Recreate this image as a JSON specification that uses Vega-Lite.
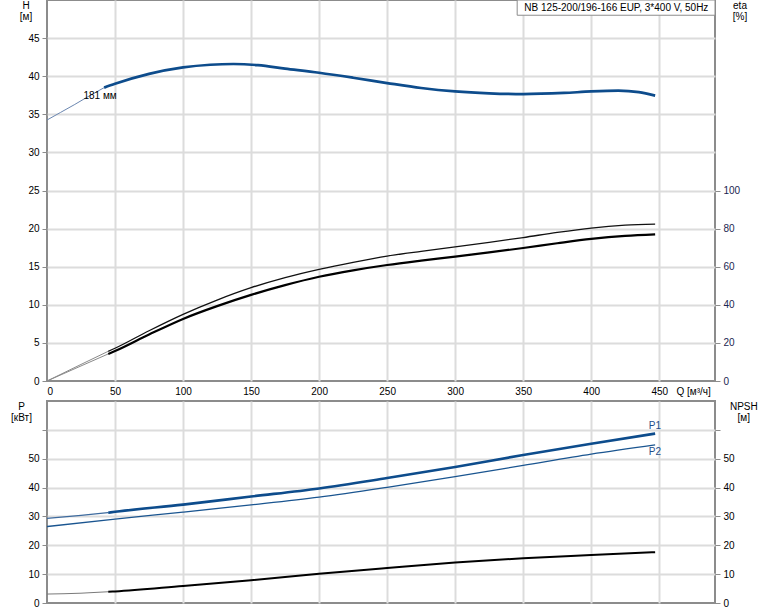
{
"$schema": "https://vega.github.io/schema/vega-lite/v6.json",
"background": "white",
"padding": {"left": 9, "top": -2, "right": 0, "bottom": 0},
"spacing": 3,
"config": {
  "font": "Liberation Sans",
  "view": {"stroke": "#8c8c8c", "strokeWidth": 2},
  "axis": {"gridColor": "#dcdcdc", "gridWidth": 2, "domain": false, "tickColor": "#8c8c8c", "tickSize": 5, "labelFontSize": 10, "labelColor": "#000", "titleFontSize": 10, "titleFontWeight": "normal", "titleColor": "#000", "labelPadding": 3, "labelOverlap": false, "tickCount": 30,
    "gridOpacity": {"condition": {"test": "datum.value === 0", "value": 0}, "value": 1}},
  "text": {"fontSize": 10},
  "line": {"interpolate": "monotone"}
},
"datasets": {
 "curves": [
  {"s":"H_ext","q":0,"v":34.25},{"s":"H_ext","q":10,"v":35.25},{"s":"H_ext","q":20,"v":36.25},{"s":"H_ext","q":30,"v":37.3},{"s":"H_ext","q":42,"v":38.5},
  {"s":"H","q":42,"v":38.5},{"s":"H","q":50,"v":39.0},{"s":"H","q":75,"v":40.3},{"s":"H","q":100,"v":41.15},{"s":"H","q":120,"v":41.5},{"s":"H","q":137,"v":41.6},{"s":"H","q":155,"v":41.45},{"s":"H","q":175,"v":41.0},{"s":"H","q":200,"v":40.45},{"s":"H","q":225,"v":39.8},{"s":"H","q":250,"v":39.1},{"s":"H","q":275,"v":38.45},{"s":"H","q":300,"v":38.0},{"s":"H","q":325,"v":37.75},{"s":"H","q":350,"v":37.65},{"s":"H","q":380,"v":37.8},{"s":"H","q":400,"v":38.0},{"s":"H","q":420,"v":38.1},{"s":"H","q":435,"v":37.9},{"s":"H","q":447,"v":37.45},
  {"s":"eta1_ext","q":0,"v":0},{"s":"eta1_ext","q":25,"v":8.7},{"s":"eta1_ext","q":45,"v":15.6},
  {"s":"eta1","q":45,"v":15.6},{"s":"eta1","q":50,"v":17.2},{"s":"eta1","q":75,"v":26.4},{"s":"eta1","q":100,"v":35.0},{"s":"eta1","q":125,"v":42.5},{"s":"eta1","q":150,"v":49},{"s":"eta1","q":175,"v":54.3},{"s":"eta1","q":200,"v":58.6},{"s":"eta1","q":225,"v":62.3},{"s":"eta1","q":250,"v":65.6},{"s":"eta1","q":275,"v":68.1},{"s":"eta1","q":300,"v":70.4},{"s":"eta1","q":325,"v":72.8},{"s":"eta1","q":350,"v":75.3},{"s":"eta1","q":375,"v":78},{"s":"eta1","q":400,"v":80.3},{"s":"eta1","q":425,"v":81.8},{"s":"eta1","q":447,"v":82.4},
  {"s":"eta2_ext","q":0,"v":0},{"s":"eta2_ext","q":25,"v":7.9},{"s":"eta2_ext","q":45,"v":14.2},
  {"s":"eta2","q":45,"v":14.2},{"s":"eta2","q":50,"v":15.7},{"s":"eta2","q":75,"v":24.4},{"s":"eta2","q":100,"v":32.6},{"s":"eta2","q":125,"v":39.3},{"s":"eta2","q":150,"v":45.2},{"s":"eta2","q":175,"v":50.3},{"s":"eta2","q":200,"v":54.7},{"s":"eta2","q":225,"v":58.1},{"s":"eta2","q":250,"v":60.9},{"s":"eta2","q":275,"v":63.2},{"s":"eta2","q":300,"v":65.3},{"s":"eta2","q":325,"v":67.5},{"s":"eta2","q":350,"v":69.8},{"s":"eta2","q":375,"v":72.3},{"s":"eta2","q":400,"v":74.6},{"s":"eta2","q":425,"v":76.2},{"s":"eta2","q":447,"v":77},
  {"s":"P1_ext","q":0,"v":29.3},{"s":"P1_ext","q":25,"v":30.4},{"s":"P1_ext","q":45,"v":31.3},
  {"s":"P1","q":45,"v":31.3},{"s":"P1","q":50,"v":31.6},{"s":"P1","q":100,"v":34.1},{"s":"P1","q":150,"v":36.9},{"s":"P1","q":200,"v":39.7},{"s":"P1","q":250,"v":43.3},{"s":"P1","q":300,"v":47.1},{"s":"P1","q":350,"v":51.3},{"s":"P1","q":400,"v":55.2},{"s":"P1","q":447,"v":58.7},
  {"s":"P2","q":0,"v":26.5},{"s":"P2","q":50,"v":29.1},{"s":"P2","q":100,"v":31.5},{"s":"P2","q":150,"v":34.0},{"s":"P2","q":200,"v":36.7},{"s":"P2","q":250,"v":40.1},{"s":"P2","q":300,"v":43.8},{"s":"P2","q":350,"v":47.7},{"s":"P2","q":400,"v":51.6},{"s":"P2","q":447,"v":54.8},
  {"s":"NPSH_ext","q":0,"v":3.1},{"s":"NPSH_ext","q":25,"v":3.4},{"s":"NPSH_ext","q":45,"v":3.9},
  {"s":"NPSH","q":45,"v":3.9},{"s":"NPSH","q":50,"v":4.0},{"s":"NPSH","q":100,"v":5.9},{"s":"NPSH","q":150,"v":7.9},{"s":"NPSH","q":200,"v":10.1},{"s":"NPSH","q":250,"v":12.1},{"s":"NPSH","q":300,"v":14.0},{"s":"NPSH","q":350,"v":15.5},{"s":"NPSH","q":400,"v":16.6},{"s":"NPSH","q":447,"v":17.6}
 ]
},
"vconcat": [
 {
  "width": 668, "height": 381,
  "layer": [
   {"layer": [
     {"data": {"name": "curves"}, "transform": [{"filter": "datum.s === 'H_ext'"}],
      "mark": {"type": "line", "color": "#6a86b0", "strokeWidth": 1},
      "encoding": {
        "x": {"field": "q", "type": "quantitative", "scale": {"domain": [0, 491], "nice": false, "zero": false},
              "axis": {"values": [0,50,100,150,200,250,300,350,400,450], "ticks": false, "tickSize": 0, "labelPadding": 5,
                       "title": "Q [м³/ч]", "titleX": 629, "titleY": 5, "titleAlign": "left", "titleBaseline": "top"}},
        "y": {"field": "v", "type": "quantitative", "scale": {"domain": [0, 50], "nice": false},
              "axis": {"values": [0,5,10,15,20,25,30,35,40,45], "title": ["H", "[м]"], "titleAngle": 0, "titleX": -21.5, "titleY": 0, "titleAlign": "center", "titleBaseline": "top", "titleLineHeight": 11}}
      }},
     {"data": {"name": "curves"}, "transform": [{"filter": "datum.s === 'H'"}],
      "mark": {"type": "line", "color": "#0d4c8c", "strokeWidth": 2.7},
      "encoding": {"x": {"field": "q", "type": "quantitative"}, "y": {"field": "v", "type": "quantitative"}}},
     {"data": {"values": [{"t": "181 мм", "q": 39, "v": 37.45}]},
      "mark": {"type": "text", "color": "#000", "align": "center", "baseline": "middle"},
      "encoding": {"x": {"field": "q", "type": "quantitative"}, "y": {"field": "v", "type": "quantitative"}, "text": {"field": "t"}}},
     {"data": {"values": [{"q1": 345.6, "q2": 491, "v1": 50, "v2": 48}]},
      "mark": {"type": "rect", "fill": "white", "stroke": "#8c8c8c", "strokeWidth": 1},
      "encoding": {"x": {"field": "q1", "type": "quantitative"}, "x2": {"field": "q2"}, "y": {"field": "v1", "type": "quantitative"}, "y2": {"field": "v2"}}},
     {"data": {"values": [{"t": "NB 125-200/196-166 EUP, 3*400 V, 50Hz", "q": 418.5, "v": 49}]},
      "mark": {"type": "text", "color": "#000", "align": "center", "baseline": "middle"},
      "encoding": {"x": {"field": "q", "type": "quantitative"}, "y": {"field": "v", "type": "quantitative"}, "text": {"field": "t"}}}
   ]},
   {"layer": [
     {"data": {"name": "curves"}, "transform": [{"filter": "datum.s === 'eta1_ext'"}],
      "mark": {"type": "line", "color": "#8a8a8a", "strokeWidth": 1},
      "encoding": {
        "x": {"field": "q", "type": "quantitative"},
        "y": {"field": "v", "type": "quantitative", "scale": {"domain": [0, 200], "nice": false},
              "axis": {"orient": "right", "grid": false, "values": [0,20,40,60,80,100], "labelColor": "#1a2550", "title": ["eta", "[%]"], "titleAngle": 0, "titleX": 24.5, "titleY": 0, "titleAlign": "center", "titleBaseline": "top", "titleLineHeight": 11}}
      }},
     {"data": {"name": "curves"}, "transform": [{"filter": "datum.s === 'eta2_ext'"}],
      "mark": {"type": "line", "color": "#8a8a8a", "strokeWidth": 1},
      "encoding": {"x": {"field": "q", "type": "quantitative"}, "y": {"field": "v", "type": "quantitative"}}},
     {"data": {"name": "curves"}, "transform": [{"filter": "datum.s === 'eta1'"}],
      "mark": {"type": "line", "color": "#111111", "strokeWidth": 1.3},
      "encoding": {"x": {"field": "q", "type": "quantitative"}, "y": {"field": "v", "type": "quantitative"}}},
     {"data": {"name": "curves"}, "transform": [{"filter": "datum.s === 'eta2'"}],
      "mark": {"type": "line", "color": "#000000", "strokeWidth": 2.2},
      "encoding": {"x": {"field": "q", "type": "quantitative"}, "y": {"field": "v", "type": "quantitative"}}}
   ]}
  ],
  "resolve": {"scale": {"y": "independent"}}
 },
 {
  "width": 668, "height": 202,
  "layer": [
   {"layer": [
     {"data": {"name": "curves"}, "transform": [{"filter": "datum.s === 'P1_ext'"}],
      "mark": {"type": "line", "color": "#3d6a9e", "strokeWidth": 1.3},
      "encoding": {
        "x": {"field": "q", "type": "quantitative", "scale": {"domain": [0, 491], "nice": false, "zero": false},
              "axis": {"values": [0,50,100,150,200,250,300,350,400,450], "labels": false, "ticks": false, "title": null}},
        "y": {"field": "v", "type": "quantitative", "scale": {"domain": [0, 70], "nice": false},
              "axis": {"values": [0,10,20,30,40,50,60], "tickCount": 30, "labelExpr": "datum.value >= 60 ? '' : datum.label", "title": ["P", "[кВт]"], "titleAngle": 0, "titleX": -26, "titleY": 0, "titleAlign": "center", "titleBaseline": "top", "titleLineHeight": 11}}
      }},
     {"data": {"name": "curves"}, "transform": [{"filter": "datum.s === 'P1'"}],
      "mark": {"type": "line", "color": "#0d4c8c", "strokeWidth": 2.6},
      "encoding": {"x": {"field": "q", "type": "quantitative"}, "y": {"field": "v", "type": "quantitative"}}},
     {"data": {"name": "curves"}, "transform": [{"filter": "datum.s === 'P2'"}],
      "mark": {"type": "line", "color": "#1a5590", "strokeWidth": 1.3},
      "encoding": {"x": {"field": "q", "type": "quantitative"}, "y": {"field": "v", "type": "quantitative"}}},
     {"data": {"values": [{"t": "P1", "q": 446.8, "v": 61.4}, {"t": "P2", "q": 446.8, "v": 52.5}]},
      "mark": {"type": "text", "color": "#1f4e8a", "align": "center", "baseline": "middle"},
      "encoding": {"x": {"field": "q", "type": "quantitative"}, "y": {"field": "v", "type": "quantitative"}, "text": {"field": "t"}}}
   ]},
   {"layer": [
     {"data": {"name": "curves"}, "transform": [{"filter": "datum.s === 'NPSH_ext'"}],
      "mark": {"type": "line", "color": "#7a7a7a", "strokeWidth": 1},
      "encoding": {
        "x": {"field": "q", "type": "quantitative"},
        "y": {"field": "v", "type": "quantitative", "scale": {"domain": [0, 70], "nice": false},
              "axis": {"orient": "right", "grid": false, "values": [0,10,20,30,40,50,60], "tickCount": 30, "labelExpr": "datum.value >= 60 ? '' : datum.label", "title": ["NPSH", "[м]"], "titleAngle": 0, "titleX": 28.3, "titleY": 0, "titleAlign": "center", "titleBaseline": "top", "titleLineHeight": 11}}
      }},
     {"data": {"name": "curves"}, "transform": [{"filter": "datum.s === 'NPSH'"}],
      "mark": {"type": "line", "color": "#000000", "strokeWidth": 2},
      "encoding": {"x": {"field": "q", "type": "quantitative"}, "y": {"field": "v", "type": "quantitative"}}}
   ]}
  ],
  "resolve": {"scale": {"y": "independent"}}
 }
]
}
